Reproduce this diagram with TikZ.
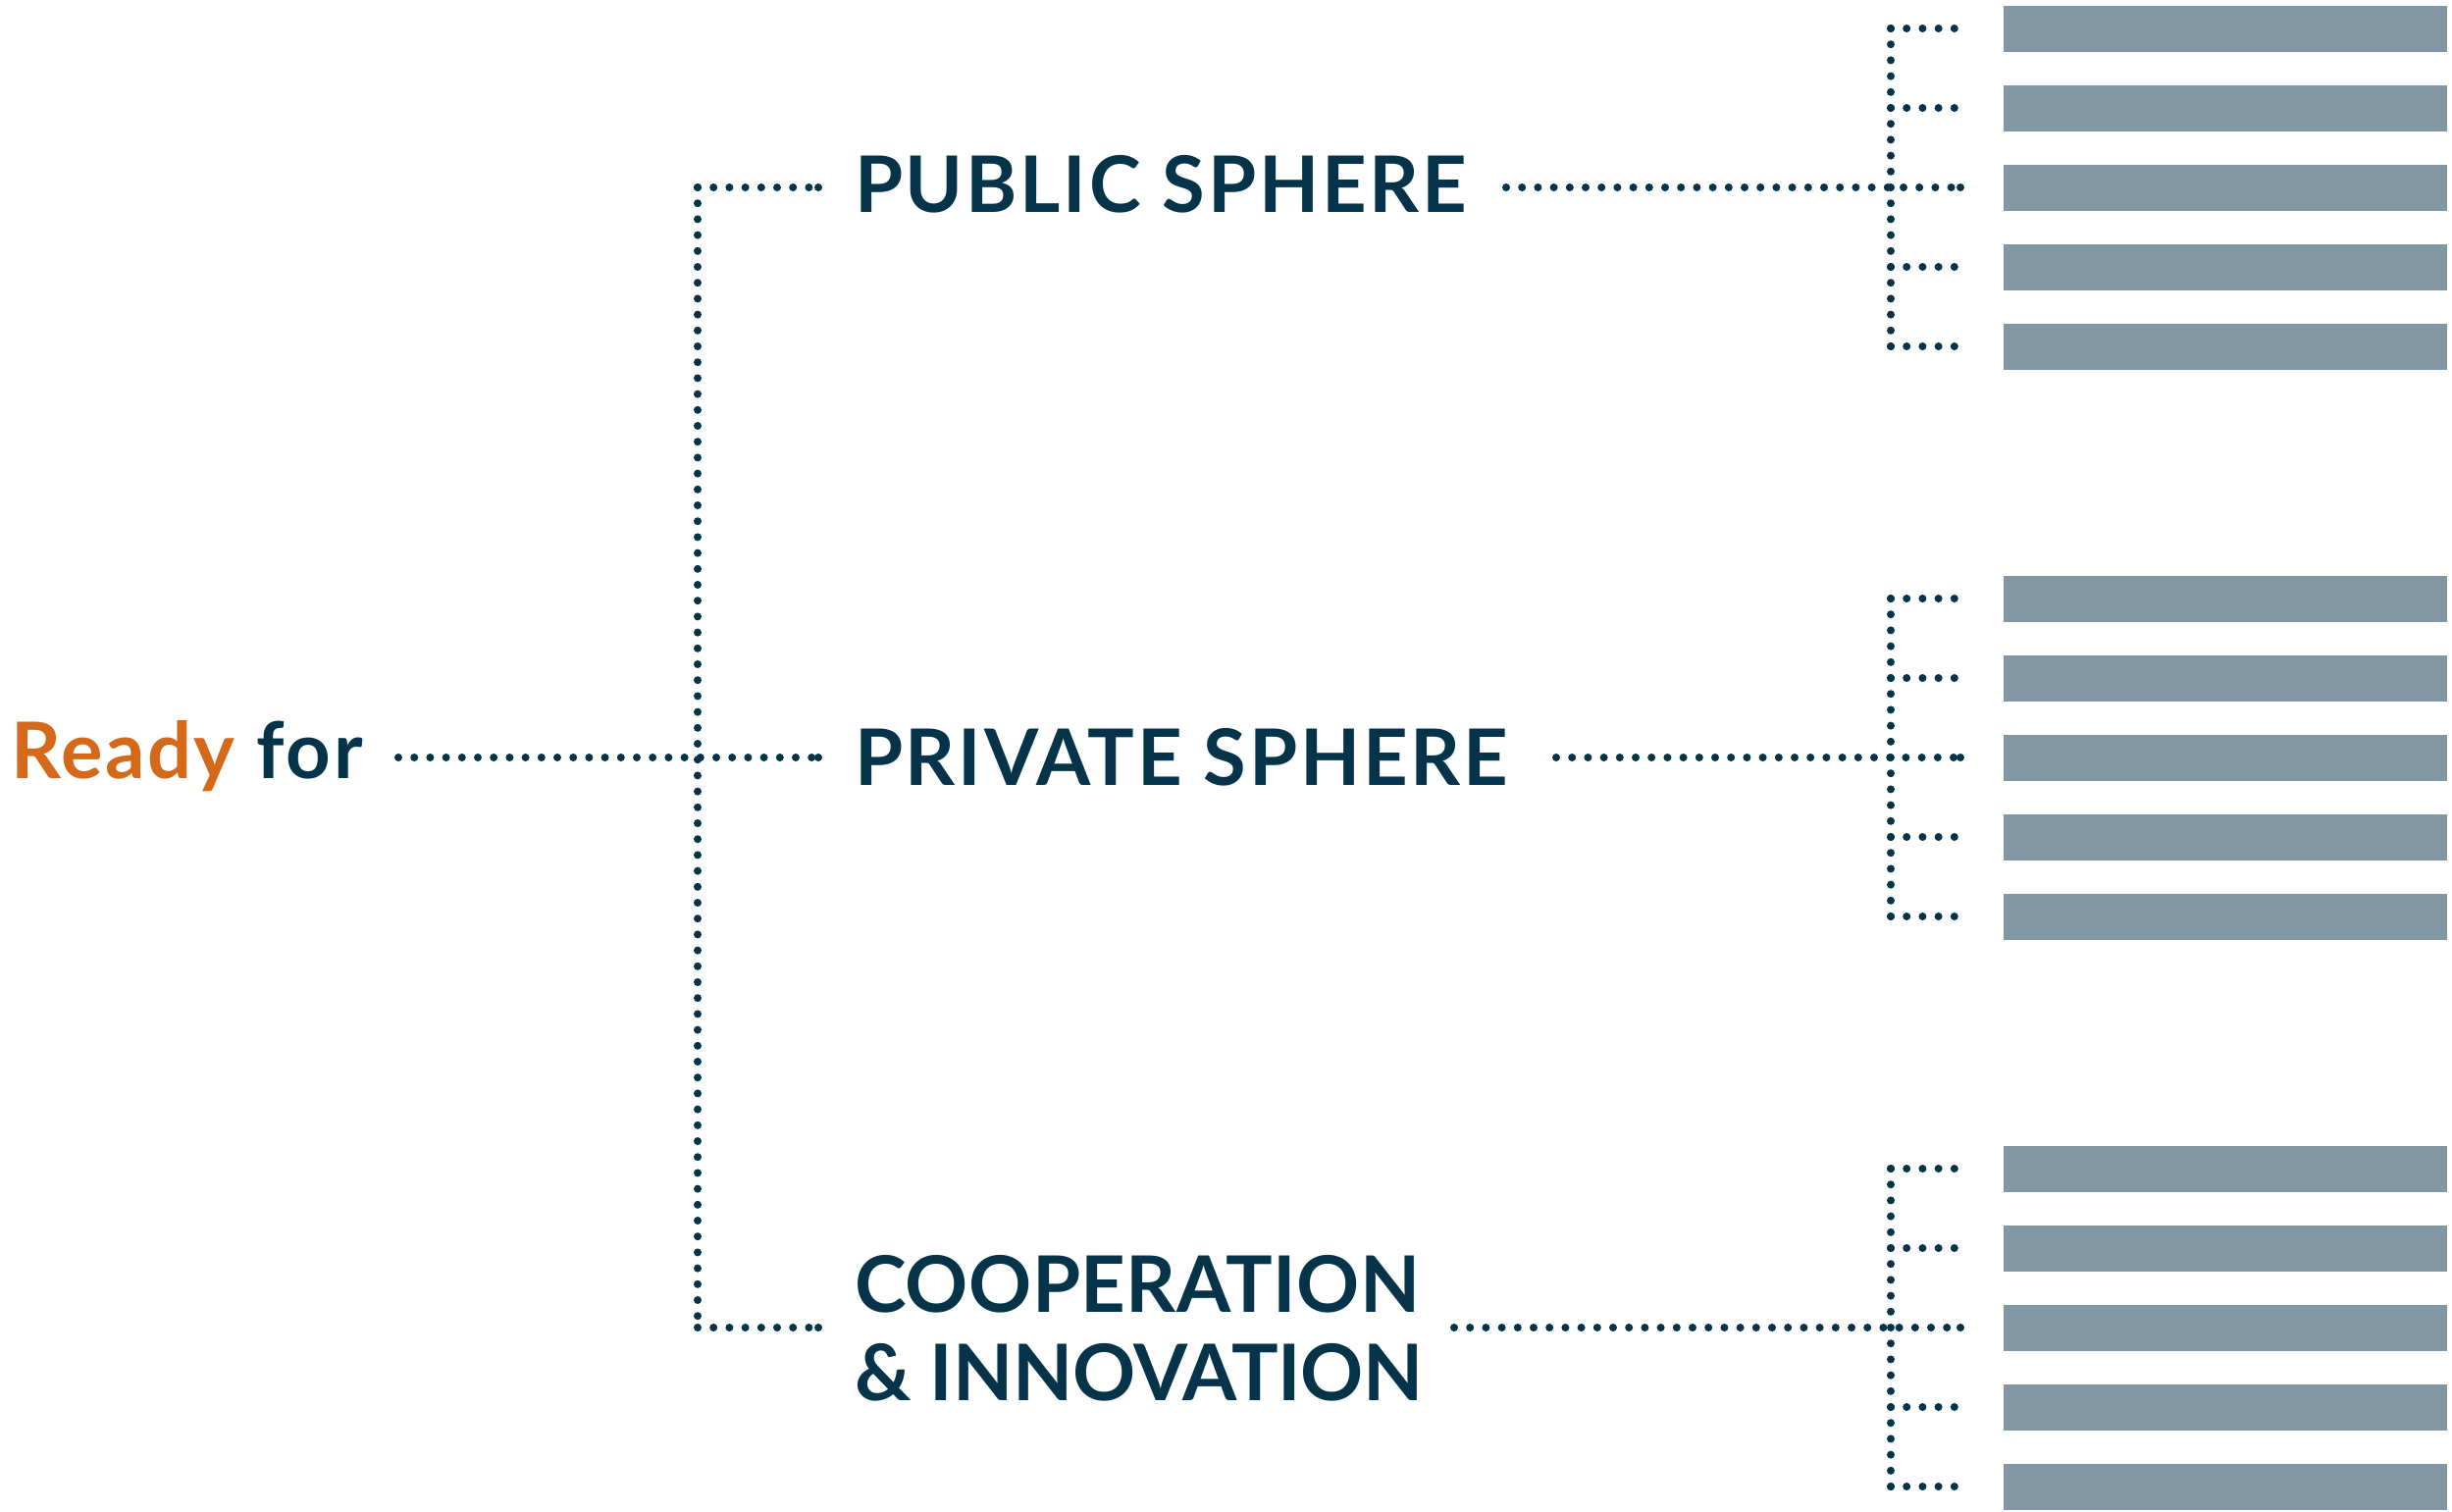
\documentclass[tikz,border=0pt]{standalone}
\usepackage{fontspec}
\setmainfont{Lato}
\definecolor{navy}{RGB}{5,52,74}
\definecolor{rorange}{RGB}{214,104,25}
\definecolor{barc}{RGB}{129,152,164}
\begin{document}
\begin{tikzpicture}[x=1pt,y=-1pt,
  dots/.style={draw=navy,line width=8pt,line cap=round,dash pattern=on 0pt off 16.2pt},
  lbl/.style={anchor=base west,inner sep=0pt,outer sep=0pt,text=navy,font=\fontsize{79.5}{90}\selectfont\bfseries,align=left},
  barbox/.style={fill=barc,draw=none,minimum width=452pt,minimum height=47pt,inner sep=0pt,outer sep=0pt}]
\useasboundingbox (0,0) rectangle (2499,1540);
% texts
\node[lbl] (ready) at (11,793) {\addfontfeature{LetterSpace=3.3}\textcolor{rorange}{Ready} for};
\node[lbl] (pub) at (871,216) {\addfontfeature{LetterSpace=3.4}PUBLIC SPHERE};
\node[lbl] (priv) at (871,800) {\addfontfeature{LetterSpace=3.4}PRIVATE SPHERE};
\node[lbl,anchor=north west] (coop) at (871,1279) {\addfontfeature{LetterSpace=0.5}COOPERATION\\\addfontfeature{LetterSpace=-0.3}\& INNOVATION};
% junction coordinates
\coordinate (rs) at (406,772);
\coordinate (jm) at (711,772);
\coordinate (jt) at (711,191);
\coordinate (jb) at (711,1353);
\coordinate (e1) at (834,191);
\coordinate (e2) at (834,772);
\coordinate (e3) at (834,1353);
\coordinate (p1) at (1535,191);
\coordinate (p2) at (1586,772);
\coordinate (p3) at (1482,1353);
% left tree
\draw[dots] (rs) -- (e2);
\draw[dots] (jt) -- (jb);
\draw[dots] (jt) -- (e1);
\draw[dots] (jb) -- (e3);
% groups
\foreach \g/\c in {1/191,2/772,3/1353}{
  \foreach \k/\d in {1/-162,2/-81,3/0,4/81,5/162}{
    \node[barbox] (b\g\k) at (2268,\c+\d) {};
    \coordinate (t\g\k) at (1927,\c+\d);
    \coordinate (u\g\k) at (1998,\c+\d);
  }
  \draw[dots] (t\g1) -- (t\g5);
  \foreach \k in {1,2,4,5}{ \draw[dots] (t\g\k) -- (u\g\k); }
}
\draw[dots] (p1) -- (u13);
\draw[dots] (p2) -- (u23);
\draw[dots] (p3) -- (u33);
% end dots so each line finishes on a dot
\foreach \p in {u13,u23,u33,e1,e2,e3}{ \fill[navy] (\p) circle (4pt); }
\end{tikzpicture}
\end{document}
